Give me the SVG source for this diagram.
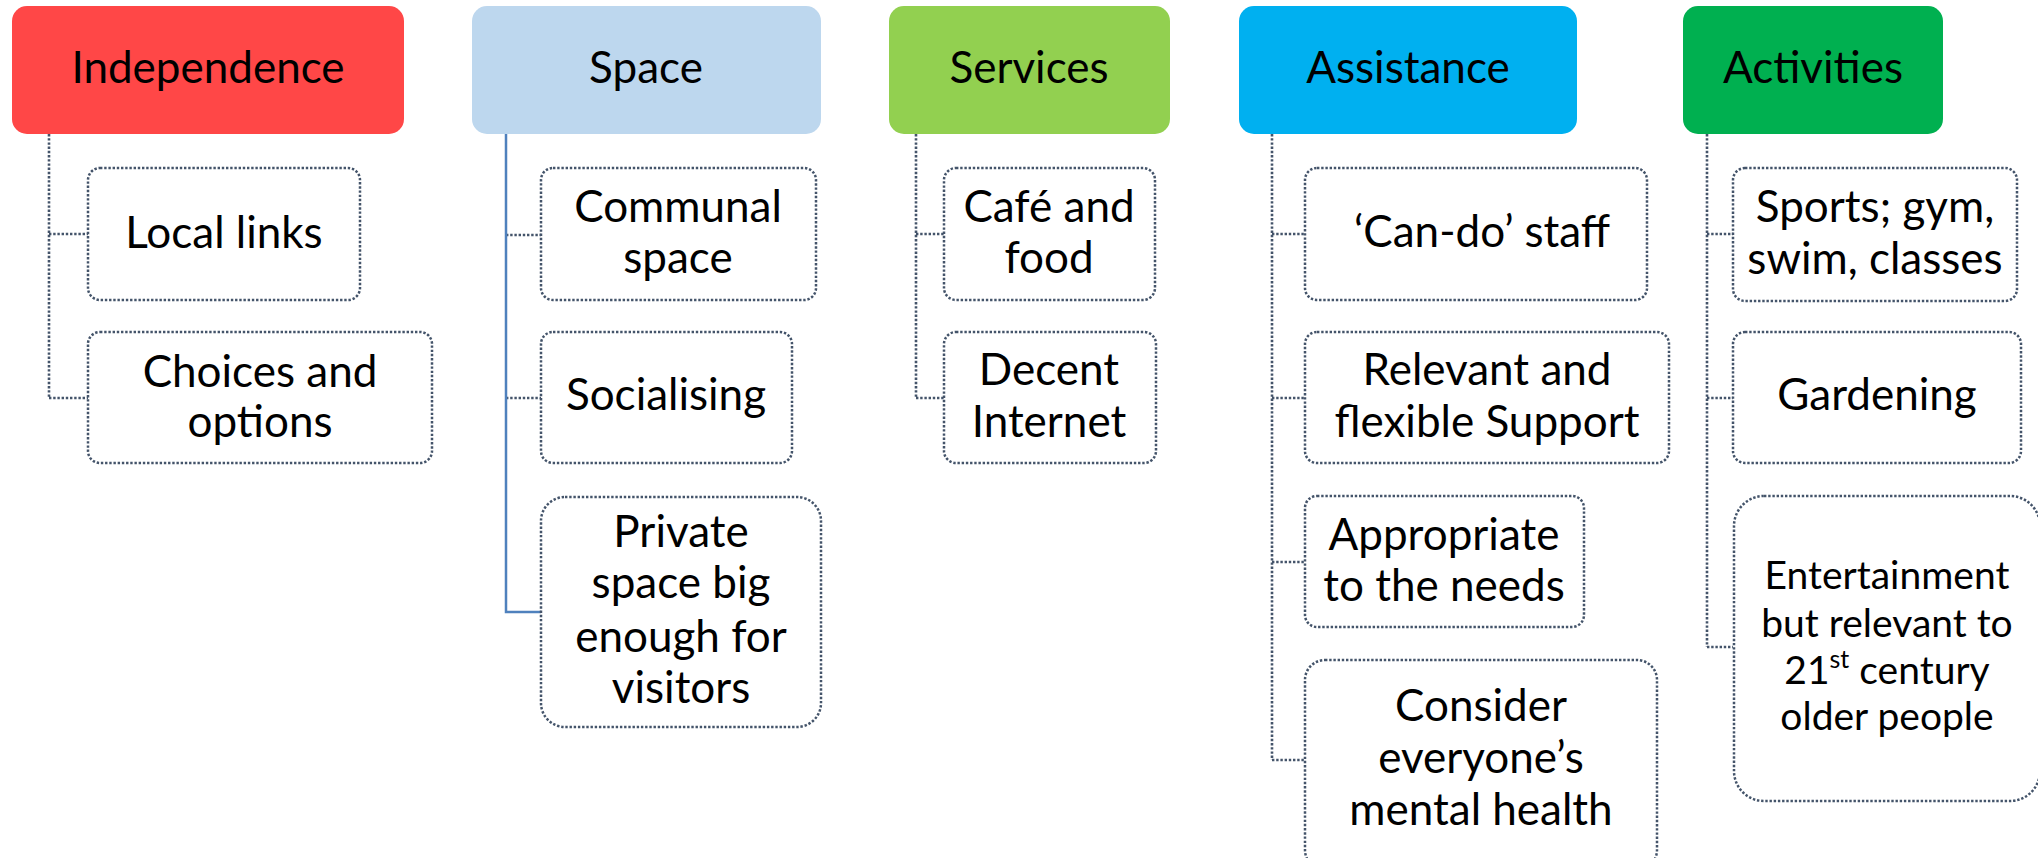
<svg xmlns="http://www.w3.org/2000/svg" width="2038" height="858" viewBox="0 0 2038 858">
<style>
text{font-family:Lato,"Liberation Sans",sans-serif;font-size:44px;fill:#000;text-anchor:middle}
.hd{stroke:none}
.box{fill:#fff;stroke:#44546A;stroke-width:2.5;stroke-dasharray:2.4 1.8}
.dot{fill:none;stroke:#44546A;stroke-width:2.6;stroke-dasharray:2.4 1.8}
.sol{fill:none;stroke:#4F81BD;stroke-width:2.5}
.sm{font-size:39px}
</style>
<rect width="2038" height="858" fill="#fff"/>
<g id="connectors">
<path class="dot" d="M49 134V398M49 234H88M49 398H88"/>
<path class="dot" d="M506 235H541M506 398H541"/>
<path class="sol" d="M506 134V612H541"/>
<path class="dot" d="M916 134V398M916 234H944M916 398H944"/>
<path class="dot" d="M1272 134V760M1272 234H1305M1272 398H1305M1272 562H1305M1272 760H1305"/>
<path class="dot" d="M1707 134V647M1707 234H1733M1707 398H1733M1707 647H1733"/>
</g>
<g id="independence"><rect class="hd" x="12" y="6" width="392" height="128" rx="15" fill="#FF4747"/><text x="208" y="83">Independence</text></g>
<g id="local-links"><rect class="box" x="88" y="168" width="272" height="132" rx="12"/><text x="224" y="248">Local links</text></g>
<g id="choices"><rect class="box" x="88" y="332" width="344" height="131" rx="12"/><text x="260" y="387">Choices and</text><text x="260" y="437">options</text></g>
<g id="space"><rect class="hd" x="472" y="6" width="349" height="128" rx="15" fill="#BDD7EE"/><text x="646" y="83">Space</text></g>
<g id="communal"><rect class="box" x="541" y="168" width="275" height="132" rx="12"/><text x="678" y="222">Communal</text><text x="678" y="273">space</text></g>
<g id="socialising"><rect class="box" x="541" y="332" width="251" height="131" rx="12"/><text x="666" y="410">Socialising</text></g>
<g id="private"><rect class="box" x="541" y="497" width="280" height="230" rx="24"/><text x="681" y="547">Private</text><text x="681" y="598">space big</text><text x="681" y="652">enough for</text><text x="681" y="703">visitors</text></g>
<g id="services"><rect class="hd" x="889" y="6" width="281" height="128" rx="15" fill="#92D050"/><text x="1029" y="83">Services</text></g>
<g id="cafe"><rect class="box" x="944" y="168" width="211" height="132" rx="12"/><text x="1049" y="222">Café and</text><text x="1049" y="273">food</text></g>
<g id="internet"><rect class="box" x="944" y="332" width="212" height="131" rx="12"/><text x="1049" y="385">Decent</text><text x="1049" y="437">Internet</text></g>
<g id="assistance"><rect class="hd" x="1239" y="6" width="338" height="128" rx="15" fill="#00B0F0"/><text x="1408" y="83">Assistance</text></g>
<g id="can-do"><rect class="box" x="1305" y="168" width="342" height="132" rx="12"/><text x="1482" y="247">‘Can-do’ staff</text></g>
<g id="relevant"><rect class="box" x="1305" y="332" width="364" height="131" rx="12"/><text x="1487" y="385">Relevant and</text><text x="1487" y="437">flexible Support</text></g>
<g id="appropriate"><rect class="box" x="1305" y="496" width="279" height="131" rx="12"/><text x="1444" y="550">Appropriate</text><text x="1444" y="601">to the needs</text></g>
<g id="consider"><rect class="box" x="1305" y="660" width="352" height="210" rx="20"/><text x="1481" y="721">Consider</text><text x="1481" y="773">everyone’s</text><text x="1481" y="825">mental health</text></g>
<g id="activities"><rect class="hd" x="1683" y="6" width="260" height="128" rx="15" fill="#00B050"/><text x="1813" y="83">Activities</text></g>
<g id="sports"><rect class="box" x="1733" y="168" width="284" height="133" rx="12"/><text x="1875" y="222">Sports; gym,</text><text x="1875" y="274">swim, classes</text></g>
<g id="gardening"><rect class="box" x="1733" y="332" width="288" height="131" rx="12"/><text x="1877" y="410">Gardening</text></g>
<g id="entertainment"><rect class="box" x="1734" y="496" width="306" height="305" rx="30"/><text class="sm" x="1887" y="589">Entertainment</text><text class="sm" x="1887" y="637">but relevant to</text><text class="sm" x="1887" y="684">21<tspan font-size="25" dy="-16">st</tspan><tspan dy="16"> century</tspan></text><text class="sm" x="1887" y="730">older people</text></g>
</svg>
